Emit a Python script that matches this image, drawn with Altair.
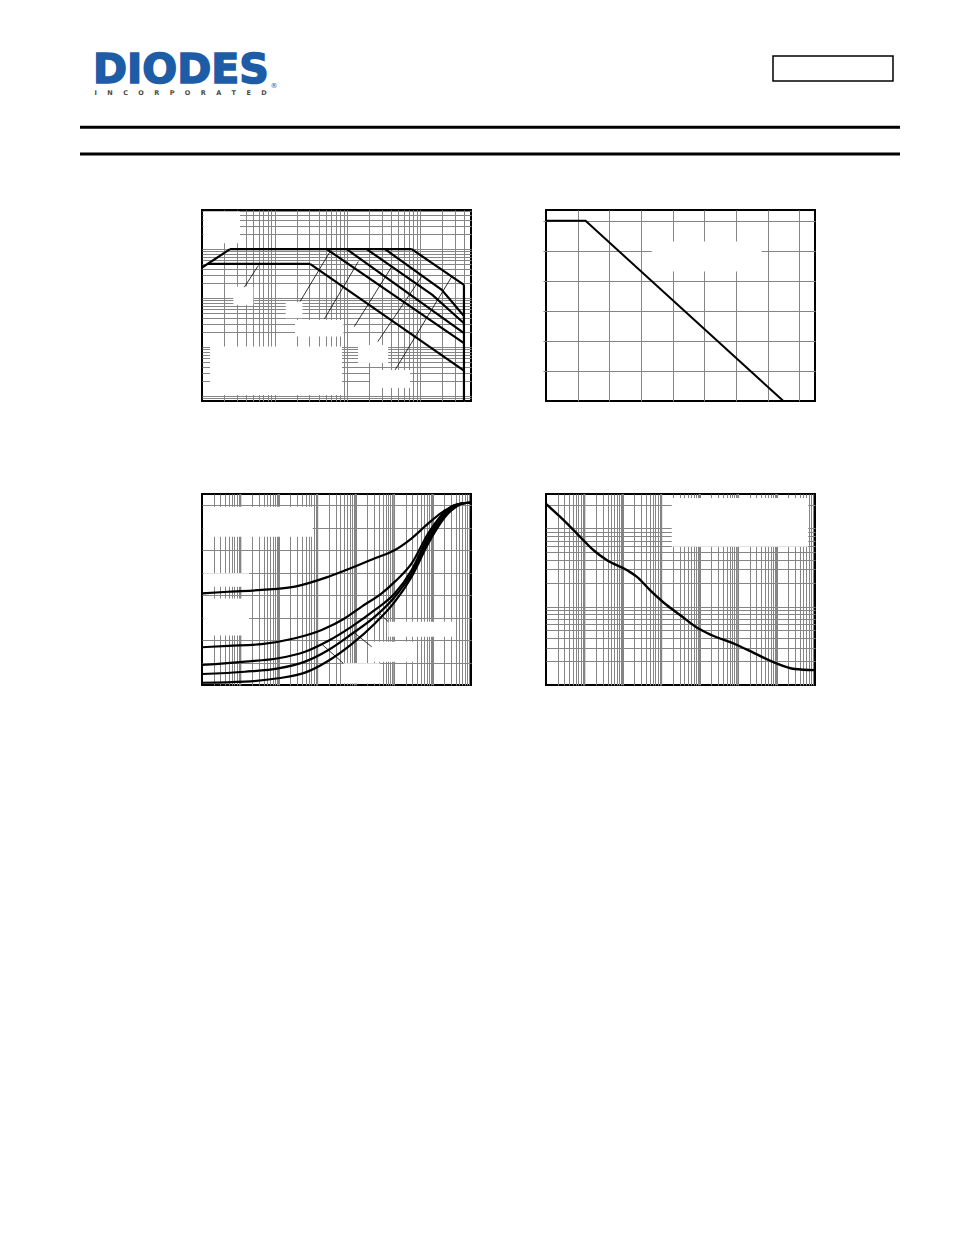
import altair as alt
import pandas as pd

# ---------------- header texts ----------------
logo_text = "DIODES"
logo_sub = "INCORPORATED"
logo_reg = "®"

# ---------------- chart 1 : safe operating area (log-log) ----------------
c1_x_domain = [0.01, 50]
c1_y_domain = [0.008, 63]
c1_rdson_x = [0.01, 0.0243]
c1_rdson_y = [4.21, 10.0]
c1_top_x = [0.0243, 7.66]
c1_top_y = [10.0, 10.0]
c1_dcflat_x = [0.012, 0.306]
c1_dcflat_y = [5.0, 5.0]
c1_dc_x = [0.306, 40]
c1_dc_y = [5.0, 0.0333]
c1_vmax_x = [40, 40]
c1_vmax_y = [0.008, 1.87]
c1_p1_x = [0.519, 40]
c1_p1_y = [10, 0.121]
c1_p2_x = [0.977, 40]
c1_p2_y = [10, 0.193]
c1_p3_x = [1.84, 14.7, 40]
c1_p3_y = [10, 1.17, 0.309]
c1_p4_x = [3.29, 19.8, 40]
c1_p4_y = [10, 1.48, 0.435]
c1_p5_x = [7.66, 40]
c1_p5_y = [10, 1.87]
# thin label leader lines
c1_l1_x = [0.0382, 0.0595]
c1_l1_y = [1.68, 4.63]
c1_l2_x = [0.223, 0.577]
c1_l2_y = [0.853, 8.94]
c1_l3_x = [0.482, 1.41]
c1_l3_y = [0.378, 5.58]
c1_l4_x = [1.24, 4.07]
c1_l4_y = [0.263, 4.42]
c1_l5_x = [2.61, 10.5]
c1_l5_y = [0.130, 2.76]
c1_l6_x = [4.52, 27.2]
c1_l6_y = [0.0344, 2.76]
# blank label areas (x, x2, y, y2)
c1_lab_x = [0.0105, 0.0270, 0.1416, 0.190, 0.0129, 1.40, 2.05]
c1_lab_x2 = [0.0333, 0.0508, 0.240, 0.879, 0.843, 3.62, 7.26]
c1_lab_y = [59, 1.73, 0.829, 0.361, 0.103, 0.111, 0.0344]
c1_lab_y2 = [13.2, 0.730, 0.391, 0.165, 0.0106, 0.0478, 0.0148]

# ---------------- chart 2 : derating (linear) ----------------
c2_x_domain = [0, 170]
c2_y_domain = [0, 318]
c2_x_grid = [20, 40, 60, 80, 100, 120, 140, 160]
c2_y_grid = [50, 100, 150, 200, 250, 300]
c2_t = [0, 25, 150]
c2_p = [300, 300, 0]
c2_lab_x = [66.8]
c2_lab_x2 = [136.3]
c2_lab_y = [265.5]
c2_lab_y2 = [215.5]

# ---------------- chart 3 : transient thermal response ----------------
c3_x_domain = [1e-5, 100]
c3_y_domain = [0, 8.5]
c3_y_grid = [1, 2, 3, 4, 5, 6, 7, 8]
c3_t_a = [1e-5, 4.84e-5, 3.57e-4, 2.63e-3, 0.0195, 0.0955, 0.316, 1.047, 2.86, 7.74, 17.3, 38.3, 85.1, 100]
c3_r_a = [4.08, 4.15, 4.23, 4.38, 4.82, 5.27, 5.64, 6.01, 6.53, 7.19, 7.67, 8.01, 8.11, 8.11]
c3_t_b = [1e-5, 4.84e-5, 3.57e-4, 2.63e-3, 0.01303, 0.0525, 0.143, 0.474, 1.047, 2.86, 7.74, 17.3, 38.3, 85.1, 100]
c3_r_b = [1.68, 1.74, 1.82, 2.08, 2.45, 2.97, 3.49, 4.08, 4.60, 5.41, 6.75, 7.57, 8.01, 8.11, 8.11]
c3_t_c = [1e-5, 1.315e-4, 9.7e-4, 4.79e-3, 0.0195, 0.0785, 0.316, 1.047, 2.86, 7.74, 25.7, 85.1, 100]
c3_r_c = [0.89, 1.04, 1.19, 1.48, 1.97, 2.60, 3.34, 4.08, 5.12, 6.60, 7.79, 8.11, 8.11]
c3_r_d = [0.49, 0.59, 0.74, 1.04, 1.56, 2.27, 3.04, 3.93, 4.97, 6.45, 7.71, 8.11, 8.11]
c3_r_e = [0.10, 0.15, 0.30, 0.55, 1.08, 1.82, 2.74, 3.71, 4.82, 6.30, 7.64, 8.11, 8.11]
c3_l1_x = [0.373, 0.705]
c3_l1_y = [3.26, 2.82]
c3_l2_x = [0.0955, 0.261]
c3_l2_y = [2.30, 1.70]
c3_l3_x = [0.01303, 0.0475]
c3_l3_y = [1.82, 0.966]
c3_lab_x = [1.09e-5, 1.09e-5, 1.09e-5, 0.705, 0.261, 0.0475]
c3_lab_x2 = [7.6e-3, 1.70e-4, 1.70e-4, 38.3, 3.15, 0.428]
c3_lab_y = [7.93, 4.97, 3.85, 2.82, 1.93, 0.966]
c3_lab_y2 = [6.60, 4.37, 2.20, 2.15, 1.04, 0.067]

# ---------------- chart 4 : single pulse power ----------------
c4_x_domain = [1e-5, 100]
c4_y_domain = [1, 275]
c4_t = [1e-5, 2.31e-5, 6.3e-5, 1.70e-4, 3.79e-4, 1.26e-3, 2.29e-3, 5.08e-3, 0.0138,
        0.0307, 0.0902, 0.2, 0.813, 2.69, 8.9, 29.5, 100]
c4_p = [205, 141, 86.5, 53.0, 39.5, 29.4, 24.2, 16.3, 10.5, 7.83, 5.30, 4.35, 3.34,
        2.54, 1.93, 1.60, 1.55]
c4_lab_x = [0.0187]
c4_lab_x2 = [66.8]
c4_lab_y = [244]
c4_lab_y2 = [58.4]

GRID = "#858585"


def log_values(lo, hi, e0, e1):
    vals = []
    for e in range(e0, e1 + 1):
        for k in range(1, 10):
            v = float(f"{k}e{e}")
            if lo < v < hi:
                vals.append(v)
    return vals


def decades(lo, hi, e0, e1):
    return [float(f"1e{e}") for e in range(e0, e1 + 1) if lo < float(f"1e{e}") < hi]


def lines_df(curves):
    rows = []
    for name, (xs, ys, w) in curves.items():
        for i, (x, y) in enumerate(zip(xs, ys)):
            rows.append({"s": name, "i": i, "x": x, "y": y, "w": w})
    return pd.DataFrame(rows)


def boxes(x, x2, y, y2):
    return alt.Chart(pd.DataFrame({"x": x, "x2": x2, "y": y, "y2": y2})).mark_rect(
        color="white").encode(x="x:Q", x2="x2:Q", y="y:Q", y2="y2:Q")


def gaxis(values, ticks=False):
    return alt.Axis(values=values, grid=True, gridColor=GRID, gridWidth=1, labels=False,
                    ticks=ticks, tickSize=3, tickColor=GRID, domain=False, title=None)


W, H = 269, 191

# ---------- chart 1 ----------
c1_df = lines_df({
    "rdson": (c1_rdson_x, c1_rdson_y, 2.2), "top": (c1_top_x, c1_top_y, 2.2),
    "dcflat": (c1_dcflat_x, c1_dcflat_y, 2.2), "dc": (c1_dc_x, c1_dc_y, 2.2),
    "vmax": (c1_vmax_x, c1_vmax_y, 2.2), "p1": (c1_p1_x, c1_p1_y, 2.2),
    "p2": (c1_p2_x, c1_p2_y, 2.2), "p3": (c1_p3_x, c1_p3_y, 2.2),
    "p4": (c1_p4_x, c1_p4_y, 2.2), "p5": (c1_p5_x, c1_p5_y, 2.2),
    "l1": (c1_l1_x, c1_l1_y, 0.8), "l2": (c1_l2_x, c1_l2_y, 0.8),
    "l3": (c1_l3_x, c1_l3_y, 0.8), "l4": (c1_l4_x, c1_l4_y, 0.8),
    "l5": (c1_l5_x, c1_l5_y, 0.8), "l6": (c1_l6_x, c1_l6_y, 0.8),
})
c1_xe = alt.X("x:Q", scale=alt.Scale(type="log", domain=c1_x_domain),
              axis=gaxis(log_values(0.01, 50, -2, 1)))
c1_ye = alt.Y("y:Q", scale=alt.Scale(type="log", domain=c1_y_domain),
              axis=gaxis(log_values(0.008, 63, -3, 1)))
c1_lines = alt.Chart(c1_df).mark_line(color="black", clip=True).encode(
    x=c1_xe, y=c1_ye, detail="s:N", order="i:Q",
    strokeWidth=alt.StrokeWidth("w:Q", scale=None),
)
c1 = alt.layer(boxes(c1_lab_x, c1_lab_x2, c1_lab_y, c1_lab_y2).encode(x=c1_xe, y=c1_ye),
               c1_lines).properties(width=W, height=H)

# ---------- chart 2 ----------
c2_xe = alt.X("x:Q", scale=alt.Scale(domain=c2_x_domain), axis=gaxis(c2_x_grid))
c2_ye = alt.Y("y:Q", scale=alt.Scale(domain=c2_y_domain), axis=gaxis(c2_y_grid, ticks=True))
c2_line = alt.Chart(pd.DataFrame({"x": c2_t, "y": c2_p})).mark_line(
    color="black", strokeWidth=2, clip=True).encode(x=c2_xe, y=c2_ye)
c2 = alt.layer(boxes(c2_lab_x, c2_lab_x2, c2_lab_y, c2_lab_y2).encode(x=c2_xe, y=c2_ye),
               c2_line).properties(width=W, height=H)

# ---------- chart 3 ----------
c3_df = lines_df({
    "a": (c3_t_a, c3_r_a, 2.2), "b": (c3_t_b, c3_r_b, 2.2), "c": (c3_t_c, c3_r_c, 2.2),
    "d": (c3_t_c, c3_r_d, 2.2), "e": (c3_t_c, c3_r_e, 2.2),
})
c3_lead = lines_df({"l1": (c3_l1_x, c3_l1_y, 0.8), "l2": (c3_l2_x, c3_l2_y, 0.8),
                    "l3": (c3_l3_x, c3_l3_y, 0.8)})
c3_x = alt.X("x:Q", scale=alt.Scale(type="log", domain=c3_x_domain),
             axis=gaxis(log_values(1e-5, 100, -5, 1)))
c3_y = alt.Y("y:Q", scale=alt.Scale(domain=c3_y_domain), axis=gaxis(c3_y_grid))
c3_dec = alt.Chart(pd.DataFrame({"x": decades(1e-5, 100, -5, 2)})).mark_rule(
    color=GRID, strokeWidth=1.8).encode(x=c3_x)
c3_curves = alt.Chart(c3_df).mark_line(color="black", strokeWidth=2.2, interpolate="monotone",
                                       clip=True).encode(x=c3_x, y=c3_y, detail="s:N", order="i:Q")
c3_leads = alt.Chart(c3_lead).mark_line(color="black", strokeWidth=0.8, clip=True).encode(
    x=c3_x, y=c3_y, detail="s:N", order="i:Q")
c3 = alt.layer(c3_dec, boxes(c3_lab_x, c3_lab_x2, c3_lab_y, c3_lab_y2).encode(x=c3_x, y=c3_y),
               c3_curves, c3_leads).properties(width=W, height=H)

# ---------- chart 4 ----------
c4_x = alt.X("x:Q", scale=alt.Scale(type="log", domain=c4_x_domain),
             axis=gaxis(log_values(1e-5, 100, -5, 1)))
c4_y = alt.Y("y:Q", scale=alt.Scale(type="log", domain=c4_y_domain),
             axis=gaxis(log_values(1, 275, 0, 2)))
c4_dec = alt.Chart(pd.DataFrame({"x": decades(1e-5, 100, -5, 2)})).mark_rule(
    color=GRID, strokeWidth=1.8).encode(x=c4_x)
c4_curve = alt.Chart(pd.DataFrame({"x": c4_t, "y": c4_p})).mark_line(
    color="black", strokeWidth=2.4, interpolate="monotone", clip=True).encode(x=c4_x, y=c4_y)
c4 = alt.layer(c4_dec, boxes(c4_lab_x, c4_lab_x2, c4_lab_y, c4_lab_y2).encode(x=c4_x, y=c4_y),
               c4_curve).properties(width=W, height=H)

# ---------- header ----------
dummy = pd.DataFrame({"k": [0]})
hb = alt.Chart(dummy)
BLUE = "#1d5ca6"
spaced_sub = "\u2003\u2002\u200a".join(list(logo_sub))
header = alt.layer(
    hb.mark_rule(color="black", strokeWidth=3).encode(x=alt.value(0), x2=alt.value(820), y=alt.value(87.3)),
    hb.mark_rule(color="black", strokeWidth=3).encode(x=alt.value(0), x2=alt.value(820), y=alt.value(114)),
    hb.mark_rect(fill="white", stroke="black", strokeWidth=1.5).encode(
        x=alt.value(693), x2=alt.value(813), y=alt.value(16), y2=alt.value(41)),
    hb.mark_text(align="left", baseline="alphabetic", font="DejaVu Sans", fontWeight="bold",
                 fontSize=41, color=BLUE, stroke=BLUE, strokeWidth=1.6).encode(
        x=alt.value(13), y=alt.value(43.3), text=alt.value(logo_text)),
    hb.mark_text(align="left", baseline="alphabetic", font="DejaVu Sans", fontWeight="bold",
                 fontSize=6.5, color="#4b4b3c").encode(x=alt.value(14.5), y=alt.value(55), text=alt.value(spaced_sub)),
    hb.mark_text(align="center", baseline="middle", font="DejaVu Sans", fontSize=7,
                 color=BLUE).encode(x=alt.value(194), y=alt.value(46), text=alt.value(logo_reg)),
).properties(width=820, height=120, view=alt.ViewBackground(stroke="transparent"))

spacer = hb.mark_point(opacity=0, size=1).encode(x=alt.value(20), y=alt.value(20)).properties(
    width=47, height=H, view=alt.ViewBackground(stroke="transparent"))

grid = alt.concat(spacer, c1, c2, spacer, c3, c4, columns=3,
                  spacing={"row": 93, "column": 75}, bounds="flush")
chart = alt.vconcat(header, grid, spacing=50, bounds="flush").properties(
    padding={"left": 69, "top": 31, "right": 10, "bottom": 10}
).configure_view(stroke="black", strokeWidth=2)

chart.save("out.html", embed_options={"renderer": "svg", "actions": False})
